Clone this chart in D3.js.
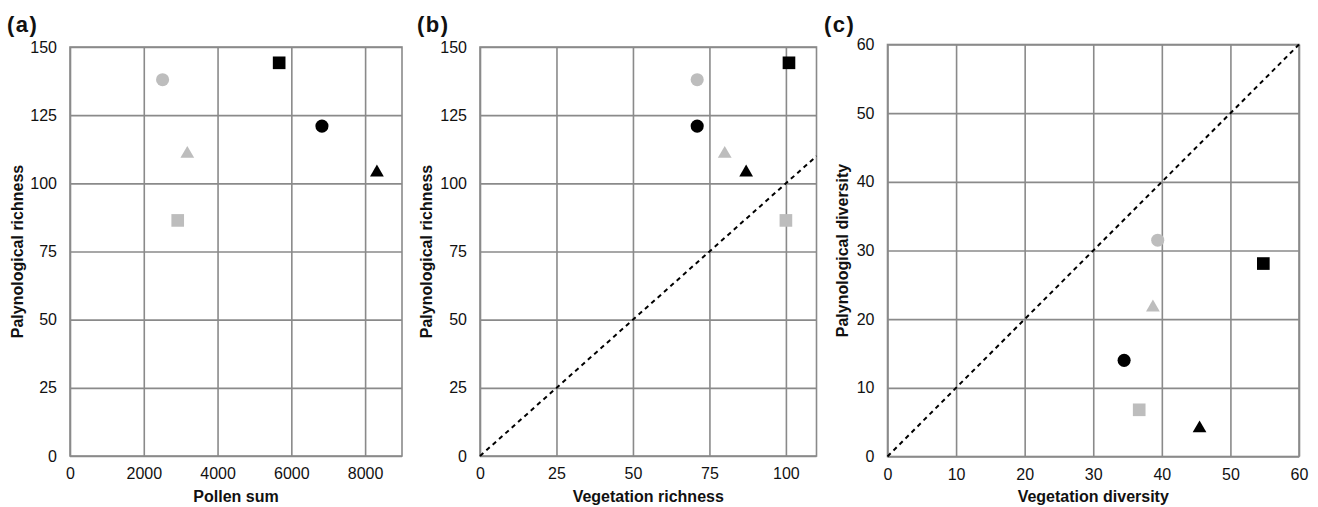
<!DOCTYPE html>
<html>
<head>
<meta charset="utf-8">
<script src="https://cdn.jsdelivr.net/npm/d3@7"></script>
<style>
  body { margin: 0; background: #fff; }
  svg { display: block; font-family: "Liberation Sans", Arial, sans-serif; }
</style>
</head>
<body>
<div id="chart"></div>
<script>
// Sites in the order: grey circle, grey square, grey triangle, black circle, black square, black triangle
var siteShapes = ["circle", "square", "triangle", "circle", "square", "triangle"];
var siteColors = ["#bdbdbd", "#bdbdbd", "#bdbdbd", "#000000", "#000000", "#000000"];

// Values
var pollenSum = [2510, 2920, 3180, 6830, 5670, 8320];
var palynologicalRichness = [138, 86.4, 110.8, 121, 144.2, 104];
var vegetationRichness = [71, 100, 80, 71, 101, 87];
var vegetationDiversity = [39.4, 36.7, 38.7, 34.5, 54.8, 45.5];
var palynologicalDiversity = [31.5, 6.8, 21.7, 14.0, 28.1, 4.1];

// Tick values
var ticksPollen = [0, 2000, 4000, 6000, 8000];
var ticksRichnessY = [0, 25, 50, 75, 100, 125, 150];
var ticksVegRichness = [0, 25, 50, 75, 100];
var ticksDiversity = [0, 10, 20, 30, 40, 50, 60];

var svg = d3.select("#chart")
    .append("svg")
    .attr("width", 1318)
    .attr("height", 507);

// Panel layout
var panels = [
  { label: "(a)", labelX: 7, left: 70, right: 402, top: 47, bottom: 456,
    xDomain: [0, 9000], yDomain: [0, 150], xTicks: ticksPollen, yTicks: ticksRichnessY,
    xs: pollenSum, ys: palynologicalRichness, yTitleX: 23,
    xTitle: "Pollen sum", yTitle: "Palynological richness", diagonal: null },
  { label: "(b)", labelX: 417, left: 480, right: 816.5, top: 47, bottom: 456,
    xDomain: [0, 110], yDomain: [0, 150], xTicks: ticksVegRichness, yTicks: ticksRichnessY,
    xs: vegetationRichness, ys: palynologicalRichness, yTitleX: 432,
    xTitle: "Vegetation richness", yTitle: "Palynological richness", diagonal: [0, 110] },
  { label: "(c)", labelX: 824, left: 887.5, right: 1299, top: 44.5, bottom: 456.5,
    xDomain: [0, 60], yDomain: [0, 60], xTicks: ticksDiversity, yTicks: ticksDiversity,
    xs: vegetationDiversity, ys: palynologicalDiversity, yTitleX: 848,
    xTitle: "Vegetation diversity", yTitle: "Palynological diversity", diagonal: [0, 60] }
];

var symbolTypes = { circle: d3.symbolCircle, square: d3.symbolSquare, triangle: d3.symbolTriangle };
var symbolSizes = { circle: 135, square: 160, triangle: 82 };

panels.forEach(function(p) {
    var g = svg.append("g");
    var w = p.right - p.left, h = p.bottom - p.top;

    var x = d3.scaleLinear().domain(p.xDomain).range([p.left, p.right]);
    var y = d3.scaleLinear().domain(p.yDomain).range([p.bottom, p.top]);

    // Grid + tick labels from axes
    var yAxis = g.append("g")
        .attr("transform", "translate(" + p.left + ",0)")
        .call(d3.axisLeft(y).tickValues(p.yTicks).tickFormat(d3.format("d"))
              .tickSizeInner(-w).tickSizeOuter(0).tickPadding(13));
    var xAxis = g.append("g")
        .attr("transform", "translate(0," + p.bottom + ")")
        .call(d3.axisBottom(x).tickValues(p.xTicks).tickFormat(d3.format("d"))
              .tickSizeInner(-h).tickSizeOuter(0).tickPadding(12));

    [yAxis, xAxis].forEach(function(a) {
        a.select(".domain").remove();
        a.selectAll(".tick line").attr("stroke", "#8a8a8a").attr("stroke-width", 1.6);
        a.selectAll(".tick text")
         .attr("fill", "#111")
         .attr("font-size", "16px")
         .attr("font-family", "'Liberation Sans', Arial, sans-serif");
    });

    // Plot border
    g.append("rect")
        .attr("x", p.left).attr("y", p.top)
        .attr("width", w).attr("height", h)
        .attr("fill", "none")
        .attr("stroke", "#8a8a8a")
        .attr("stroke-width", 1.6);

    // 1:1 line
    if (p.diagonal) {
        g.append("line")
            .attr("x1", x(p.diagonal[0])).attr("y1", y(p.diagonal[0]))
            .attr("x2", x(p.diagonal[1])).attr("y2", y(p.diagonal[1]))
            .attr("stroke", "#000")
            .attr("stroke-width", 2)
            .attr("stroke-dasharray", "4.5,4");
    }

    // Points
    g.selectAll("path.pt")
        .data(p.xs.map(function(v, i) { return { x: v, y: p.ys[i], shape: siteShapes[i], color: siteColors[i] }; }))
        .enter()
        .append("path")
        .attr("class", "pt")
        .attr("transform", function(d) { return "translate(" + x(d.x) + "," + y(d.y) + ")"; })
        .attr("d", function(d) { return d3.symbol().type(symbolTypes[d.shape]).size(symbolSizes[d.shape])(); })
        .attr("fill", function(d) { return d.color; });

    // Axis titles
    g.append("text")
        .attr("x", (p.left + p.right) / 2)
        .attr("y", 502)
        .attr("text-anchor", "middle")
        .attr("font-size", "16px")
        .attr("font-weight", "bold")
        .attr("fill", "#111")
        .text(p.xTitle);

    g.append("text")
        .attr("transform", "translate(" + p.yTitleX + "," + ((p.top + p.bottom) / 2) + ") rotate(-90)")
        .attr("text-anchor", "middle")
        .attr("font-size", "16px")
        .attr("font-weight", "bold")
        .attr("fill", "#111")
        .text(p.yTitle);

    // Panel letter
    g.append("text")
        .attr("x", p.labelX)
        .attr("y", 32)
        .attr("font-size", "22px")
        .attr("font-weight", "bold")
        .attr("letter-spacing", "1.5px")
        .attr("fill", "#111")
        .text(p.label);
});
</script>
</body>
</html>
